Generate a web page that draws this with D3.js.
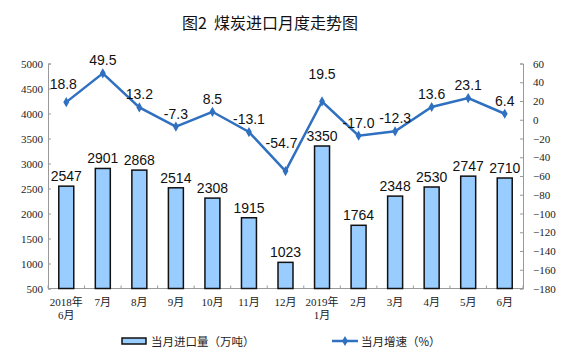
<!DOCTYPE html>
<html><head><meta charset="utf-8">
<script src="https://cdn.jsdelivr.net/npm/d3@7"></script>
<style>
body{margin:0;background:#fff;}
svg{display:block;}
</style></head>
<body><svg id="c" width="561" height="357"></svg>
<script>
const title = "图2  煤炭进口月度走势图";
const categories = ["2018年\n6月","7月","8月","9月","10月","11月","12月","2019年\n1月","2月","3月","4月","5月","6月"];
const imports = [2547,2901,2868,2514,2308,1915,1023,3350,1764,2348,2530,2747,2710];
const growth = [18.8,49.5,13.2,-7.3,8.5,-13.1,-54.7,19.5,-17.0,-12.3,13.6,23.1,6.4];
const leftTicks = [500,1000,1500,2000,2500,3000,3500,4000,4500,5000];
const rightTicks = [60,40,20,0,-20,-40,-60,-80,-100,-120,-140,-160,-180];
const legendLabels = ["当月进口量（万吨）","当月增速（%）"];

const svg = d3.select("#c");
const L = 48, R = 523, T = 63.5, B = 288.5;
const barFill = "#99CCFF", lineColor = "#3070C0";
const numFont = "'Liberation Sans', Arial, sans-serif";
const axisFont = "'Liberation Serif', 'Noto Sans CJK SC', serif";
const cjkFont = "'Noto Sans CJK SC', sans-serif";

const x = d3.scaleBand().domain(d3.range(categories.length)).range([L, R]).paddingInner(0.59).paddingOuter(0.295);
const step = x.step();
const yL = d3.scaleLinear().domain([500, 5000]).range([B, T]);
const yR = d3.scaleLinear().domain([-180, 60]).range([B, T]);

// title
svg.append("text").attr("x", 270).attr("y", 29).attr("text-anchor", "middle")
  .attr("font-family", cjkFont).attr("font-size", 16).attr("font-weight", 400).attr("fill", "#111")
  .attr("xml:space","preserve").text(title);

// left axis
const gl = svg.append("g").attr("transform", `translate(${L},0)`)
  .call(d3.axisRight(yL).tickValues(leftTicks).tickSize(3).tickFormat(d3.format("d")));
gl.select(".domain").attr("stroke", "#999");
gl.selectAll(".tick line").attr("stroke", "#999");
gl.selectAll(".tick text").attr("x", -5).attr("text-anchor", "end")
  .attr("font-family", axisFont).attr("font-size", 11).attr("fill", "#222");

// right axis
const gr = svg.append("g").attr("transform", `translate(${R},0)`)
  .call(d3.axisLeft(yR).tickValues(rightTicks).tickSize(3).tickFormat(d3.format("d")));
gr.select(".domain").attr("stroke", "#999");
gr.selectAll(".tick line").attr("stroke", "#999");
gr.selectAll(".tick text").attr("x", 10).attr("text-anchor", "start")
  .attr("font-family", axisFont).attr("font-size", 11).attr("fill", "#222");

// x axis
svg.append("line").attr("x1", L).attr("x2", R).attr("y1", B).attr("y2", B).attr("stroke", "#999");
svg.append("g").selectAll("line").data(d3.range(categories.length + 1)).join("line")
  .attr("x1", i => L + i * step).attr("x2", i => L + i * step)
  .attr("y1", B).attr("y2", B - 3).attr("stroke", "#999");
const xl = svg.append("g").selectAll("text").data(categories).join("text")
  .attr("text-anchor", "middle").attr("font-family", axisFont).attr("font-size", 11).attr("fill", "#222");
xl.each(function(d, i){
  const lines = d.split("\n");
  const t = d3.select(this);
  lines.forEach((s, k) => t.append("tspan").attr("x", x(i) + x.bandwidth()/2).attr("y", 306 + k*13).text(s));
});

// bars
svg.append("g").selectAll("rect").data(imports).join("rect")
  .attr("x", (d,i) => x(i)).attr("width", x.bandwidth())
  .attr("y", d => yL(d)).attr("height", d => B - yL(d))
  .attr("fill", barFill).attr("stroke", "#111").attr("stroke-width", 1.5);
svg.append("g").selectAll("text").data(imports).join("text")
  .attr("x", (d,i) => x(i) + x.bandwidth()/2).attr("y", d => yL(d) - 5)
  .attr("text-anchor", "middle").attr("font-family", numFont).attr("font-size", 14).attr("fill", "#111")
  .text(d => d);

// line
const cx = i => x(i) + x.bandwidth()/2;
svg.append("path").datum(growth)
  .attr("d", d3.line().x((d,i) => cx(i)).y(d => yR(d)))
  .attr("fill", "none").attr("stroke", lineColor).attr("stroke-width", 2.5);
svg.append("g").selectAll("path").data(growth).join("path")
  .attr("transform", (d,i) => `translate(${cx(i)},${yR(d)})`)
  .attr("d", d3.symbol(d3.symbolDiamond, 30)).attr("fill", lineColor);
const lift = {0: 13, 6: 23, 7: 22};
const shift = {0: -3, 6: -4};
svg.append("g").selectAll("text").data(growth).join("text")
  .attr("x", (d,i) => cx(i) + (shift[i] || 0)).attr("y", (d,i) => yR(d) - (lift[i] || 8))
  .attr("text-anchor", "middle").attr("font-family", numFont).attr("font-size", 14).attr("fill", "#111")
  .text(d => d.toFixed(1));

// legend
const lg = svg.append("g");
lg.append("rect").attr("x", 122).attr("y", 338).attr("width", 24).attr("height", 6)
  .attr("fill", barFill).attr("stroke", "#111").attr("stroke-width", 1.5);
lg.append("text").attr("x", 151).attr("y", 346).attr("font-family", cjkFont).attr("font-size", 11.5).attr("fill", "#222").text(legendLabels[0]);
lg.append("line").attr("x1", 332).attr("x2", 358).attr("y1", 341).attr("y2", 341).attr("stroke", lineColor).attr("stroke-width", 2.5);
lg.append("path").attr("transform", "translate(345,341)").attr("d", d3.symbol(d3.symbolDiamond, 30)).attr("fill", lineColor);
lg.append("text").attr("x", 361).attr("y", 346).attr("font-family", cjkFont).attr("font-size", 11.5).attr("fill", "#222").text(legendLabels[1]);
</script></body></html>
